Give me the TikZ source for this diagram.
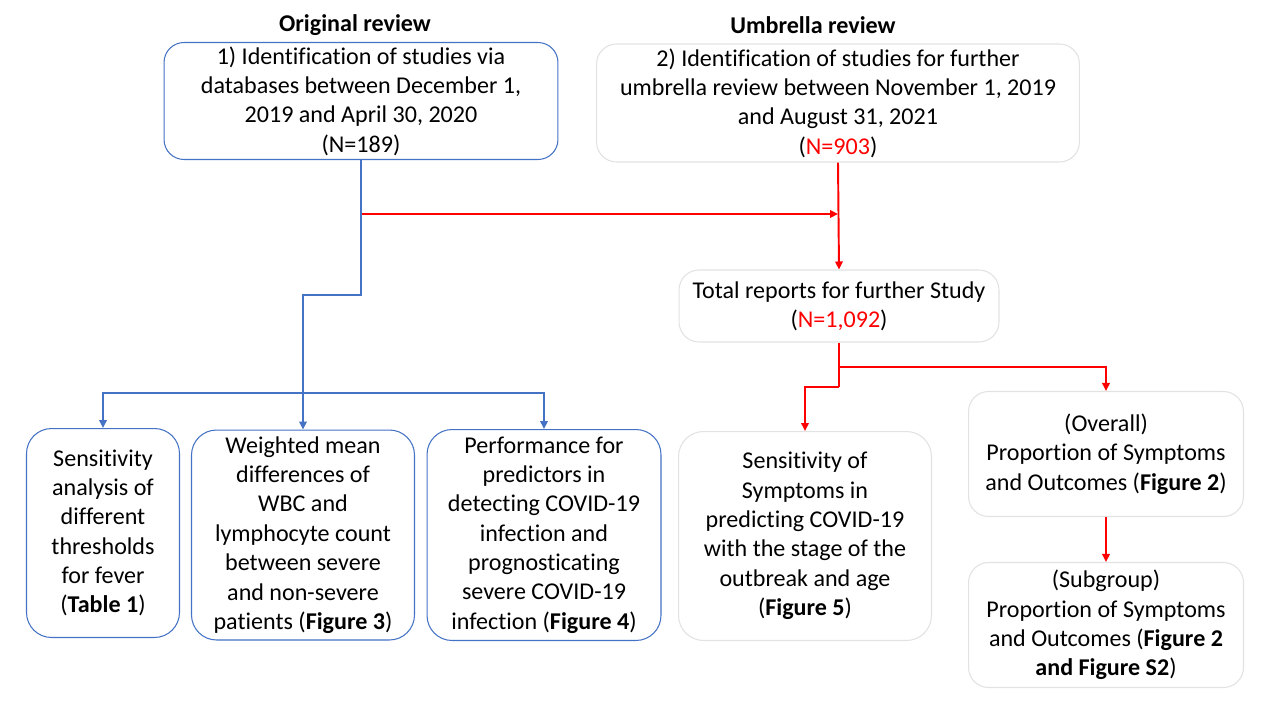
\documentclass[tikz,border=0pt]{standalone}
\usepackage{fontspec}
\setmainfont[Ligatures=NoCommon]{Carlito}
\usetikzlibrary{positioning, arrows.meta, calc}
\definecolor{rvBlue}{HTML}{4472C4}
\definecolor{rvRed}{HTML}{FF0000}
\definecolor{rvEdge}{HTML}{E2E2E2}
\tikzset{
  rv/.style={x=0.02cm, y=-0.02cm, font=\fontsize{13.7}{16.7}\selectfont, line width=0.6pt},
  box/.style={draw, rounded corners=0.4cm, fill=white, align=center, inner sep=2pt},
  orig/.style={box, draw=rvBlue},
  umb/.style={box, draw=rvEdge},
  head/.style={font=\fontsize{13.7}{16.7}\selectfont\bfseries},
  barr/.style={draw=rvBlue, line width=1.1pt, -{Triangle[length=1.6mm, width=1.5mm]}},
  rarr/.style={draw=rvRed, line width=1.1pt, -{Triangle[length=1.6mm, width=1.5mm]}},
  rline/.style={draw=rvRed, line width=1.1pt},
  bline/.style={draw=rvBlue, line width=1.1pt},
}
\newcommand{\rvn}[1]{\textcolor{rvRed}{#1}}

\begin{document}
\begin{tikzpicture}[
  rv,
]
\useasboundingbox (0,0) rectangle (1280,720);

\node[head] (hOrig) at (355,25) {Original review};
\node[head] (hUmb) at (813,25) {Umbrella review};

\node[orig, minimum width=7.88cm, minimum height=2.34cm] (src) at (361,101)
  {1) Identification of studies via\\databases between December 1,\\2019 and April 30, 2020\\(N=189)};
\node[umb, minimum width=9.66cm, minimum height=2.36cm] (ext) at (838,103)
  {2) Identification of studies for further\\umbrella review between November 1, 2019\\and August 31, 2021\\(\rvn{N=903})};
\node[umb, minimum width=6.4cm, minimum height=1.44cm] (tot) at (839,306)
  {Total reports for further Study\\(\rvn{N=1,092})};

\node[orig, minimum width=3.06cm, minimum height=4.18cm, rounded corners=0.5cm] (thr) at (103,533)
  {Sensitivity\\analysis of\\different\\thresholds\\for fever\\(\textbf{Table 1})};
\node[orig, minimum width=4.46cm, minimum height=4.2cm, rounded corners=0.5cm] (wmd) at (303,535)
  {Weighted mean\\differences of\\WBC and\\lymphocyte count\\between severe\\and non-severe\\patients (\textbf{Figure 3})};
\node[orig, minimum width=4.68cm, minimum height=4.22cm, rounded corners=0.5cm] (perf) at (544,535)
  {Performance for\\predictors in\\detecting COVID-19\\infection and\\prognosticating\\severe COVID-19\\infection (\textbf{Figure 4})};
\node[umb, minimum width=5.06cm, minimum height=4.18cm, rounded corners=0.5cm] (sens) at (805,536)
  {Sensitivity of\\Symptoms in\\predicting COVID-19\\with the stage of the\\outbreak and age\\(\textbf{Figure 5})};
\node[umb, minimum width=5.5cm, minimum height=2.5cm] (all) at (1106,454)
  {(Overall)\\Proportion of Symptoms\\and Outcomes (\textbf{Figure 2})};
\node[umb, minimum width=5.5cm, minimum height=2.5cm] (sub) at (1106,625)
  {(Subgroup)\\Proportion of Symptoms\\and Outcomes (\textbf{Figure 2}\\\textbf{and Figure S2})};

\coordinate (bTurn) at (src.south |- 0,295);
\coordinate (bBar) at (wmd.north |- 0,393);
\coordinate (rJoin) at (src.south |- 0,214);
\coordinate (tA) at (tot.south |- 0,367);
\coordinate (tB) at (tot.south |- 0,387);

\draw[rarr] (rJoin) -- (rJoin -| ext.south);
\draw[bline] (src.south) -- (bTurn) -| (bBar);
\draw[barr] (bBar) -- (wmd.north);
\draw[barr] (bBar) -| (thr.north);
\draw[barr] (bBar) -| (perf.north);

\draw[rarr] (ext.south) -- (tot.north);
\draw[rline] (tot.south) -- (tB);
\draw[rarr] (tA) -| (all.north);
\draw[rarr] (tB) -| (sens.north);
\draw[rarr] (all.south) -- (sub.north);
\end{tikzpicture}
\end{document}
